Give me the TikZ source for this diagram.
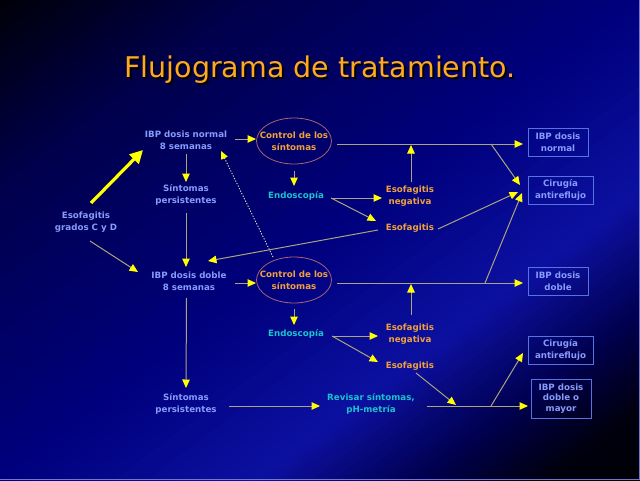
\documentclass[tikz,border=0pt]{standalone}
\usepackage{fontspec}
\setmainfont{DejaVu Sans}
\usetikzlibrary{arrows.meta,shapes.geometric}
\definecolor{g0}{RGB}{0,0,8}
\definecolor{g1}{RGB}{0,0,75}
\definecolor{g2}{RGB}{0,0,125}
\definecolor{g3}{RGB}{12,16,160}
\definecolor{g4}{RGB}{0,0,75}
\definecolor{g5}{RGB}{0,0,15}
\definecolor{g6}{RGB}{0,0,0}
\definecolor{lblblue}{RGB}{135,155,250}
\definecolor{orng}{RGB}{240,160,60}
\definecolor{cyanlbl}{RGB}{25,195,205}
\definecolor{titleor}{RGB}{255,170,30}
\definecolor{ellcol}{RGB}{170,100,115}
\definecolor{boxcol}{RGB}{85,115,225}
\definecolor{linecol}{RGB}{170,165,125}
\definecolor{arrowyel}{RGB}{255,255,0}
\definecolor{dotcol}{RGB}{230,230,185}
\definecolor{edgeline}{RGB}{110,120,210}
\newcommand\lblfont{\bfseries\fontsize{8.7}{12}\selectfont}
\newcommand\titletxt{Flujograma de tratamiento.}
\begin{document}
\begin{tikzpicture}[x=1pt,y=-1pt,
  lbl/.style={font=\lblfont, text=lblblue, align=center, inner sep=0pt},
  orlbl/.style={lbl, text=orng},
  cylbl/.style={lbl, text=cyanlbl},
  ctrlshape/.style={ellipse, draw=ellcol, line width=0.8pt, minimum width=75pt, minimum height=46pt, inner sep=0pt},
  boxnode/.style={draw=boxcol, line width=0.8pt, minimum width=60pt, minimum height=28pt, inner sep=0pt, font=\lblfont, text=lblblue, align=center},
  conn/.style={draw=linecol, line width=1pt, -{Triangle[length=8.5pt,width=7.5pt,color=arrowyel]}},
  dotconn/.style={draw=dotcol, line width=0.9pt, dash pattern=on 1.2pt off 1.6pt, -{Triangle[length=8pt,width=7pt,color=arrowyel]}},
  bigarrow/.style={draw=arrowyel, line width=3.2pt, -{Triangle[length=13pt,width=13pt,color=arrowyel]}}
]
\useasboundingbox (0,0) rectangle (640,480);
% background
\begin{scope}
\clip (0,0) rectangle (640,480);
\fill[g6] (0,0) rectangle (640,480);
\foreach \ua/\ub/\ca/\cb in {0/150/g0/g1,150/384/g1/g2,384/540/g2/g3,540/640/g3/g4,640/710/g4/g5,710/790/g5/g6}{
  \foreach \k in {0,...,15}{
    \pgfmathsetmacro\s{\ua+(\ub-\ua)*\k/16}
    \pgfmathsetmacro\e{\ua+(\ub-\ua)*(\k+1)/16+0.8}
    \pgfmathtruncatemacro\p{100-(\k+0.5)*100/16}
    \fill[fill=\ca!\p!\cb] ({0.6*\s-480},{0.8*\s+360}) -- ({0.6*\s+480},{0.8*\s-360}) -- ({0.6*\e+480},{0.8*\e-360}) -- ({0.6*\e-480},{0.8*\e+360}) -- cycle;
  }
}
\end{scope}
\draw[edgeline, line width=1pt] (0,479.5) -- (639.5,479.5) -- (639.5,0);
% title with shadow (one node)
\node[anchor=base, inner sep=0pt, font=\fontsize{28.5}{34}\selectfont, text=titleor] (title) at (320,77)
  {\makebox[0pt][l]{\hspace{2pt}\raisebox{-2pt}{\color{black}\titletxt}}\titletxt};
% nodes
\node[lbl] (esocd) at (86,222) {Esofagitis\\grados C y D};
\node[lbl] (ibpn) at (186,140) {IBP dosis normal\\8 semanas};
\node[lbl] (sp1) at (186,195) {Síntomas\\persistentes};
\node[lbl] (ibpd) at (189,281) {IBP dosis doble\\8 semanas};
\node[ctrlshape] (ctrl1) at (294,141) {};
\node[orlbl] (ctrl1t) at (294,141) {Control de los\\síntomas};
\node[ctrlshape] (ctrl2) at (294,280) {};
\node[orlbl] (ctrl2t) at (294,280) {Control de los\\síntomas};
\node[cylbl] (endo1) at (296,196) {Endoscopía};
\node[orlbl] (eneg1) at (410,196) {Esofagitis\\negativa};
\node[orlbl] (eso1) at (410,228) {Esofagitis};
\node[cylbl] (endo2) at (296,334) {Endoscopía};
\node[orlbl] (eneg2) at (410,334.5) {Esofagitis\\negativa};
\node[orlbl] (eso2) at (410,366) {Esofagitis};
\node[lbl] (sp2) at (186,403.5) {Síntomas\\persistentes};
\node[cylbl] (rev) at (371,403.5) {Revisar síntomas,\\pH-metría};
\node[boxnode] (box1) at (558,142) {IBP dosis\\normal};
\node[boxnode, minimum width=65pt] (box2) at (560.5,190) {Cirugía\\antireflujo};
\node[boxnode] (box3) at (558,281) {IBP dosis\\doble};
\node[boxnode, minimum width=65pt] (box4) at (560.5,350) {Cirugía\\antireflujo};
\node[boxnode, minimum height=39pt, font=\bfseries\fontsize{8.7}{10.5}\selectfont] (box5) at (561,398.5) {IBP dosis\\doble o\\mayor};
% junctions
\coordinate (j1) at (411,145);
\coordinate (j2) at (491,144);
\coordinate (j3) at (411,284);
\coordinate (j4) at (485,283);
\coordinate (j5) at (456,405);
\coordinate (j6) at (491,406);
% connectors
\draw[bigarrow] ([shift={(5,-19)}]esocd.center) -- ([shift={(-43,10)}]ibpn.center);
\draw[conn] ([shift={(4,19)}]esocd.center) -- ([shift={(-51,-9)}]ibpd.center);
\draw[conn] ([shift={(0,14)}]ibpn.center) -- ([shift={(0,-13)}]sp1.center);
\draw[conn] ([shift={(0,18)}]sp1.center) -- ([shift={(-3,-14)}]ibpd.center);
\draw[conn] ([shift={(49,-1)}]ibpn.center) -- ([shift={(-38,-2)}]ctrl1.center);
\draw[conn] ([shift={(43,3)}]ctrl1.center) -- ([shift={(-35,2)}]box1.center);
\draw[conn] ([shift={(1,-14)}]eneg1.center) -- (j1);
\draw[conn] (j2) -- ([shift={(-40.5,-5)}]box2.center);
\draw[conn] ([shift={(0,30)}]ctrl1.center) -- ([shift={(-2,-10)}]endo1.center);
\draw[conn] ([shift={(35,2)}]endo1.center) -- ([shift={(-28,2)}]eneg1.center);
\draw[conn] ([shift={(35,2)}]endo1.center) -- ([shift={(-34,-7)}]eso1.center);
\draw[conn] ([shift={(28,1)}]eso1.center) -- ([shift={(-42.5,2)}]box2.center);
\draw[conn] ([shift={(-32,2)}]eso1.center) -- ([shift={(19,-20)}]ibpd.center);
\draw[dotconn] ([shift={(-21,-23)}]ctrl2.center) -- ([shift={(35,11)}]ibpn.center);
\draw[conn] ([shift={(46,2)}]ibpd.center) -- ([shift={(-38,3)}]ctrl2.center);
\draw[conn] ([shift={(43,3)}]ctrl2.center) -- ([shift={(-35,2)}]box3.center);
\draw[conn] (j4) -- ([shift={(-38.5,3)}]box2.center);
\draw[conn] ([shift={(1,-19.5)}]eneg2.center) -- (j3);
\draw[conn] ([shift={(0,29)}]ctrl2.center) -- ([shift={(-2,-9)}]endo2.center);
\draw[conn] ([shift={(36,2)}]endo2.center) -- ([shift={(-32,1.5)}]eneg2.center);
\draw[conn] ([shift={(36,2)}]endo2.center) -- ([shift={(-32,-4)}]eso2.center);
\draw[conn] ([shift={(6,7)}]eso2.center) -- (j5);
\draw[conn] ([shift={(-2.5,17)}]ibpd.center) -- ([shift={(0,-15.5)}]sp2.center);
\draw[conn] ([shift={(43,2.5)}]sp2.center) -- ([shift={(-51,2.5)}]rev.center);
\draw[conn] ([shift={(56,2.5)}]rev.center) -- ([shift={(-33,7.5)}]box5.center);
\draw[conn] (j6) -- ([shift={(-37.5,3)}]box4.center);
\end{tikzpicture}
\end{document}
